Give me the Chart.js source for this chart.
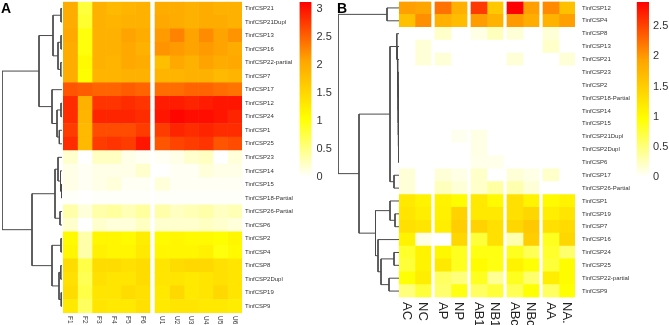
<!DOCTYPE html>
<html>
<head>
<meta charset="utf-8">
<script src="https://cdn.jsdelivr.net/npm/chart.js@4.4.1/dist/chart.umd.min.js"></script>
<style>
  html, body { margin: 0; padding: 0; background: #fff; }
  #wrap { position: relative; width: 669px; height: 325px; overflow: hidden; }
  #wrap canvas { position: absolute; }
  .tag { position: absolute; top: 0; font: bold 14px/16px "Liberation Sans", Arial, sans-serif; color: #000; }
</style>
</head>
<body>
<div id="wrap">
  <canvas id="dendA"></canvas>
  <canvas id="heatA"></canvas>
  <canvas id="barA"></canvas>
  <canvas id="dendB"></canvas>
  <canvas id="heatB"></canvas>
  <canvas id="barB"></canvas>
  <div class="tag" style="left:1px">A</div>
  <div class="tag" style="left:337px">B</div>
</div>
<script>
// ---- panel A: tissues ----
const rowsA = ['TinfCSP21', 'TinfCSP21Dupl', 'TinfCSP13', 'TinfCSP16', 'TinfCSP22-partial', 'TinfCSP7',
    'TinfCSP17', 'TinfCSP12', 'TinfCSP24', 'TinfCSP1', 'TinfCSP25', 'TinfCSP23', 'TinfCSP14', 'TinfCSP15',
    'TinfCSP18-Partial', 'TinfCSP26-Partial', 'TinfCSP6', 'TinfCSP2', 'TinfCSP4', 'TinfCSP8',
    'TinfCSP2Dupl', 'TinfCSP19', 'TinfCSP9'];
const colsA = ['F1', 'F2', 'F3', 'F4', 'F5', 'F6', 'U1', 'U2', 'U3', 'U4', 'U5', 'U6'];
const valuesA = [
    [2.0, 0.8, 1.95, 1.85, 1.9, 1.95, 2.0, 2.0, 1.95, 2.0, 1.95, 1.95],
    [2.0, 0.85, 1.95, 1.9, 1.95, 1.95, 2.05, 2.0, 1.95, 2.0, 2.0, 1.95],
    [2.05, 1.0, 1.95, 1.95, 2.1, 2.0, 2.15, 2.3, 2.1, 2.25, 2.1, 2.2],
    [2.0, 1.0, 1.95, 1.95, 2.05, 1.95, 2.2, 2.15, 2.1, 2.15, 2.1, 2.0],
    [2.0, 1.1, 1.95, 1.9, 2.05, 2.0, 1.8, 2.05, 1.95, 2.1, 2.0, 2.05],
    [2.0, 1.05, 1.9, 1.9, 1.95, 1.95, 1.9, 1.9, 1.95, 1.95, 1.85, 1.9],
    [2.6, 2.55, 2.5, 2.5, 2.55, 2.5, 2.45, 2.45, 2.5, 2.5, 2.45, 2.4],
    [2.85, 1.95, 2.8, 2.8, 2.85, 2.8, 2.95, 2.95, 2.9, 2.95, 3.0, 3.0],
    [2.85, 1.9, 2.9, 2.9, 2.9, 2.85, 3.0, 3.1, 3.05, 3.05, 3.0, 2.9],
    [2.75, 1.85, 2.65, 2.65, 2.65, 2.75, 2.75, 2.9, 2.85, 2.9, 2.85, 2.85],
    [2.85, 1.85, 2.75, 2.8, 2.75, 3.0, 2.6, 2.7, 2.75, 2.8, 2.6, 2.65],
    [0.2, 0.0, 0.25, 0.25, 0.1, 0.05, 0.05, 0.1, 0.2, 0.25, 0.0, 0.15],
    [0.1, 0.05, 0.1, 0.1, 0.1, 0.2, 0.0, 0.05, 0.05, 0.15, 0.1, 0.1],
    [0.1, 0.05, 0.1, 0.15, 0.05, 0.05, 0.15, 0.05, 0.05, 0.05, 0.05, 0.05],
    [0.02, 0.0, 0.02, 0.02, 0.02, 0.02, 0.02, 0.02, 0.02, 0.02, 0.02, 0.02],
    [0.35, 0.15, 0.35, 0.4, 0.3, 0.4, 0.35, 0.25, 0.3, 0.35, 0.25, 0.3],
    [0.2, 0.0, 0.2, 0.15, 0.15, 0.25, 0.2, 0.2, 0.2, 0.25, 0.2, 0.15],
    [1.1, 0.35, 1.15, 1.15, 1.1, 1.25, 1.1, 1.15, 1.1, 1.1, 1.05, 1.15],
    [1.15, 0.35, 1.2, 1.15, 1.15, 1.3, 1.15, 1.15, 1.15, 1.2, 1.0, 1.1],
    [1.45, 0.75, 1.45, 1.45, 1.4, 1.45, 1.35, 1.45, 1.5, 1.5, 1.4, 1.35],
    [1.4, 0.7, 1.4, 1.35, 1.35, 1.45, 1.35, 1.35, 1.3, 1.35, 1.4, 1.35],
    [1.45, 0.75, 1.35, 1.35, 1.45, 1.4, 1.3, 1.5, 1.3, 1.35, 1.5, 1.35],
    [1.3, 0.65, 1.35, 1.3, 1.3, 1.4, 1.3, 1.35, 1.35, 1.3, 1.3, 1.25],
];
// hclust-style merges: negative = leaf (row index + 1), positive = earlier merge, then height
const mergesA = [
    [-1, -2, 1], [-3, -4, 1], [-5, -6, 1.2], [2, 3, 4], [1, 4, 9],
    [-8, -9, 1], [-10, -11, 2.7], [6, 7, 5], [-7, 8, 10], [5, 9, 23],
    [-14, -15, 0.5], [-13, 11, 1.5], [-12, 12, 4], [-16, -17, 2], [13, 14, 7],
    [-18, -19, 1], [-20, -21, 1.2], [-22, -23, 0.8], [17, 18, 3], [16, 19, 10],
    [15, 20, 30], [10, 21, 60],
];
const maxA = 3.13;

// ---- panel B: treatments ----
const rowsB = ['TinfCSP12', 'TinfCSP4', 'TinfCSP8', 'TinfCSP13', 'TinfCSP21', 'TinfCSP23', 'TinfCSP2',
    'TinfCSP18-Partial', 'TinfCSP14', 'TinfCSP15', 'TinfCSP21Dupl', 'TinfCSP2Dupl', 'TinfCSP6',
    'TinfCSP17', 'TinfCSP26-Partial', 'TinfCSP1', 'TinfCSP19', 'TinfCSP7', 'TinfCSP16', 'TinfCSP24',
    'TinfCSP25', 'TinfCSP22-partial', 'TinfCSP9'];
const colsB = ['AC', 'NC', 'AP', 'NP', 'AB1', 'NB1', 'ABc', 'NBc', 'AA', 'NA.'];
const valuesB = [
    [1.96, 1.93, 2.24, 1.82, 2.56, 1.56, 2.9, 1.97, 2.09, 1.64],
    [1.64, 2.06, 1.82, 1.69, 1.98, 1.78, 2.0, 1.85, 1.78, 1.97],
    [0, 0, 0.2, 0, 0.1, 0.25, 0.15, 0, 0.15, 0],
    [0, 0.15, 0, 0, 0, 0, 0, 0, 0.2, 0],
    [0, 0.15, 0.15, 0, 0, 0, 0.15, 0, 0, 0.15],
    [0, 0, 0, 0, 0, 0, 0, 0, 0, 0],
    [0, 0, 0, 0, 0, 0, 0, 0, 0, 0],
    [0, 0, 0, 0, 0, 0, 0, 0, 0, 0],
    [0, 0, 0, 0, 0, 0, 0, 0, 0, 0],
    [0, 0, 0, 0, 0, 0, 0, 0, 0, 0],
    [0, 0, 0, 0.06, 0.1, 0, 0, 0, 0, 0],
    [0, 0, 0, 0, 0.1, 0, 0, 0, 0, 0],
    [0, 0, 0, 0, 0.08, 0.08, 0, 0, 0, 0],
    [0.15, 0, 0.15, 0.1, 0.2, 0, 0.15, 0.1, 0.2, 0],
    [0.15, 0, 0.25, 0.15, 0.2, 0.35, 0.3, 0.15, 0, 0],
    [1.2, 1.1, 1.1, 1.0, 1.2, 1.02, 1.3, 1.1, 1.02, 1.1],
    [1.25, 1.15, 1.12, 1.45, 1.2, 1.2, 1.3, 1.4, 1.15, 1.25],
    [1.3, 1.25, 1.15, 1.5, 1.45, 1.3, 1.4, 1.55, 1.3, 1.35],
    [1.1, 0.1, 0.0, 1.4, 0.75, 1.3, 0.3, 1.5, 0.85, 1.4],
    [0.8, 1.1, 1.05, 0.85, 0.9, 0.9, 0.85, 0.65, 0.8, 0.55],
    [0.75, 1.1, 1.2, 0.85, 1.0, 0.9, 1.1, 0.95, 0.75, 1.0],
    [0.95, 1.15, 0.6, 0.5, 0.85, 0.4, 0.85, 0.55, 1.15, 1.0],
    [0.5, 0.75, 0.55, 0.9, 0.6, 0.75, 0.65, 0.95, 0.6, 0.95],
];
const mergesB = [
    [-1, -2, 12], [-12, -13, 0.3], [-11, 2, 0.5], [-10, 3, 0.6], [-9, 4, 0.7],
    [-8, 5, 0.8], [-7, 6, 0.9], [-6, 7, 1.0], [-5, 8, 1.3], [-4, 9, 1.7],
    [-3, 10, 2.2], [-14, -15, 5], [11, 12, 9], [-17, -18, 4], [-16, 14, 9],
    [-20, -21, 5], [-22, -23, 10], [16, 17, 18], [-19, 18, 21], [15, 19, 23.5],
    [13, 20, 40], [1, 21, 61],
];
const maxB = 2.9;

const FONT = '"Liberation Sans", Arial, Helvetica, sans-serif';
const STOPS = [[0, [255, 255, 255]], [1 / 3, [255, 255, 0]], [2 / 3, [255, 165, 0]], [1, [255, 0, 0]]];
const EXT = 20, H = 325 + 2 * EXT;

function heatColor(v, vMax) {
    const t = Math.max(0, Math.min(1, v / vMax));
    for (let i = 1; i < STOPS.length; i++) {
        if (t <= STOPS[i][0]) {
            const [t0, c0] = STOPS[i - 1], [t1, c1] = STOPS[i];
            const f = (t - t0) / (t1 - t0);
            const c = c0.map((a, k) => Math.round(a + (c1[k] - a) * f));
            return `rgb(${c.join(',')})`;
        }
    }
    return 'rgb(255,0,0)';
}

function place(id, left, width) {
    const el = document.getElementById(id);
    el.width = width;
    el.height = H;
    el.style.left = left + 'px';
    el.style.top = -EXT + 'px';
    return el;
}

function dendroChart(id, left, width, merges, nRows, hMax, pad) {
    const pos = [];
    const ref = k => (k < 0 ? [-k - 1, 0] : pos[k - 1]);
    const datasets = merges.map(([a, b, h], i) => {
        const [ya, ha] = ref(a), [yb, hb] = ref(b);
        pos[i] = [(ya + yb) / 2, h];
        return {
            data: [{ x: ha, y: ya }, { x: h, y: ya }, { x: h, y: yb }, { x: hb, y: yb }],
            showLine: true,
            borderColor: '#4a4a4a',
            borderWidth: 1,
            pointRadius: 0,
        };
    });
    new Chart(place(id, left, width), {
        type: 'scatter',
        data: { datasets },
        options: {
            responsive: false,
            animation: false,
            devicePixelRatio: 1,
            layout: { padding: pad, autoPadding: false },
            plugins: { legend: { display: false }, tooltip: { enabled: false } },
            scales: {
                x: { type: 'linear', min: 0, max: hMax, reverse: true, display: false },
                y: { type: 'linear', min: -0.5, max: nRows - 0.5, reverse: true, display: false },
            },
        },
    });
}

function heatChart(id, left, width, rows, cols, values, vMax, group, gap, o) {
    const start = j => j + Math.floor(j / group) * gap;
    const xMax = start(cols.length - 1) + 1;
    const colLabels = {
        id: 'colLabels',
        afterDraw(chart) {
            const { ctx, chartArea, scales: { x } } = chart;
            ctx.save();
            ctx.font = `${o.colFont}px ${FONT}`;
            ctx.fillStyle = o.colColor;
            ctx.textAlign = 'left';
            ctx.textBaseline = 'middle';
            cols.forEach((c, j) => {
                ctx.save();
                ctx.translate(x.getPixelForValue(start(j) + 0.5), chartArea.bottom + o.colGap);
                ctx.rotate(Math.PI / 2);
                ctx.fillText(c, 0, 0);
                ctx.restore();
            });
            ctx.restore();
        },
    };
    new Chart(place(id, left, width), {
        type: 'bar',
        data: {
            labels: rows,
            datasets: cols.map((c, j) => ({
                label: c,
                data: rows.map(() => [start(j), start(j) + 1]),
                backgroundColor: rows.map((r, i) => heatColor(values[i][j], vMax)),
                borderWidth: 0,
                grouped: false,
                barPercentage: 1,
                categoryPercentage: 1,
            })),
        },
        options: {
            indexAxis: 'y',
            responsive: false,
            animation: false,
            devicePixelRatio: 1,
            layout: { padding: o.pad, autoPadding: false },
            plugins: { legend: { display: false }, tooltip: { enabled: false } },
            scales: {
                x: { type: 'linear', min: 0, max: xMax, display: false },
                y: {
                    position: 'right',
                    grid: { display: false, drawTicks: false },
                    border: { display: false },
                    ticks: { autoSkip: false, padding: o.rowPad, color: '#333', font: { family: FONT, size: 6 } },
                    afterFit: s => { s.width = o.axisW; },
                },
            },
        },
        plugins: [colLabels],
    });
}

function colorBar(id, left, width, vMax, pad, axisW, tickPad) {
    new Chart(place(id, left, width), {
        type: 'bar',
        data: {
            labels: [''],
            datasets: [{
                data: [[0, vMax]],
                borderWidth: 0,
                barPercentage: 1,
                categoryPercentage: 1,
                backgroundColor: (c) => {
                    const { chart } = c;
                    if (!chart.chartArea) return null;
                    const y = chart.scales.y;
                    const g = chart.ctx.createLinearGradient(0, y.getPixelForValue(0), 0, y.getPixelForValue(vMax));
                    STOPS.forEach(([t, col]) => g.addColorStop(t, `rgb(${col.join(',')})`));
                    return g;
                },
            }],
        },
        options: {
            responsive: false,
            animation: false,
            devicePixelRatio: 1,
            layout: { padding: pad, autoPadding: false },
            plugins: { legend: { display: false }, tooltip: { enabled: false } },
            scales: {
                x: { display: false },
                y: {
                    position: 'right',
                    min: 0,
                    max: vMax,
                    grid: { display: false, drawTicks: false },
                    border: { display: false },
                    ticks: {
                        stepSize: 0.5,
                        includeBounds: false,
                        padding: tickPad,
                        color: '#333',
                        font: { family: FONT, size: 11 },
                        callback: v => String(v),
                    },
                    afterFit: s => { s.width = axisW; },
                },
            },
        },
    });
}

// panel A
dendroChart('dendA', 0, 63, mergesA, rowsA.length, 60,
    { left: 2, right: 1, top: EXT + 1.7, bottom: H - EXT - 313 });
heatChart('heatA', 63, 234, rowsA, colsA, valuesA, maxA, 6, 0.35, {
    pad: { left: 0, right: 0, top: EXT + 1.7, bottom: H - EXT - 313 },
    axisW: 55, rowPad: 3, colFont: 6.5, colGap: 3, colColor: '#333',
});
colorBar('barA', 299, 40, maxA, { left: 0.5, right: 0, top: EXT + 2, bottom: H - EXT - 177 }, 27.5, 5);

// panel B
dendroChart('dendB', 334, 66, mergesB, rowsB.length, 61,
    { left: 4, right: 1, top: EXT + 1.5, bottom: H - EXT - 297.5 });
heatChart('heatB', 399, 231, rowsB, colsB, valuesB, maxB, 2, 0.25, {
    pad: { left: 0, right: 0, top: EXT + 1.5, bottom: H - EXT - 297.5 },
    axisW: 55, rowPad: 7, colFont: 13, colGap: 4.5, colColor: '#222',
});
colorBar('barB', 636, 33, maxB, { left: 0.7, right: 0, top: EXT + 2, bottom: H - EXT - 177 }, 20, 4);
</script>
</body>
</html>
